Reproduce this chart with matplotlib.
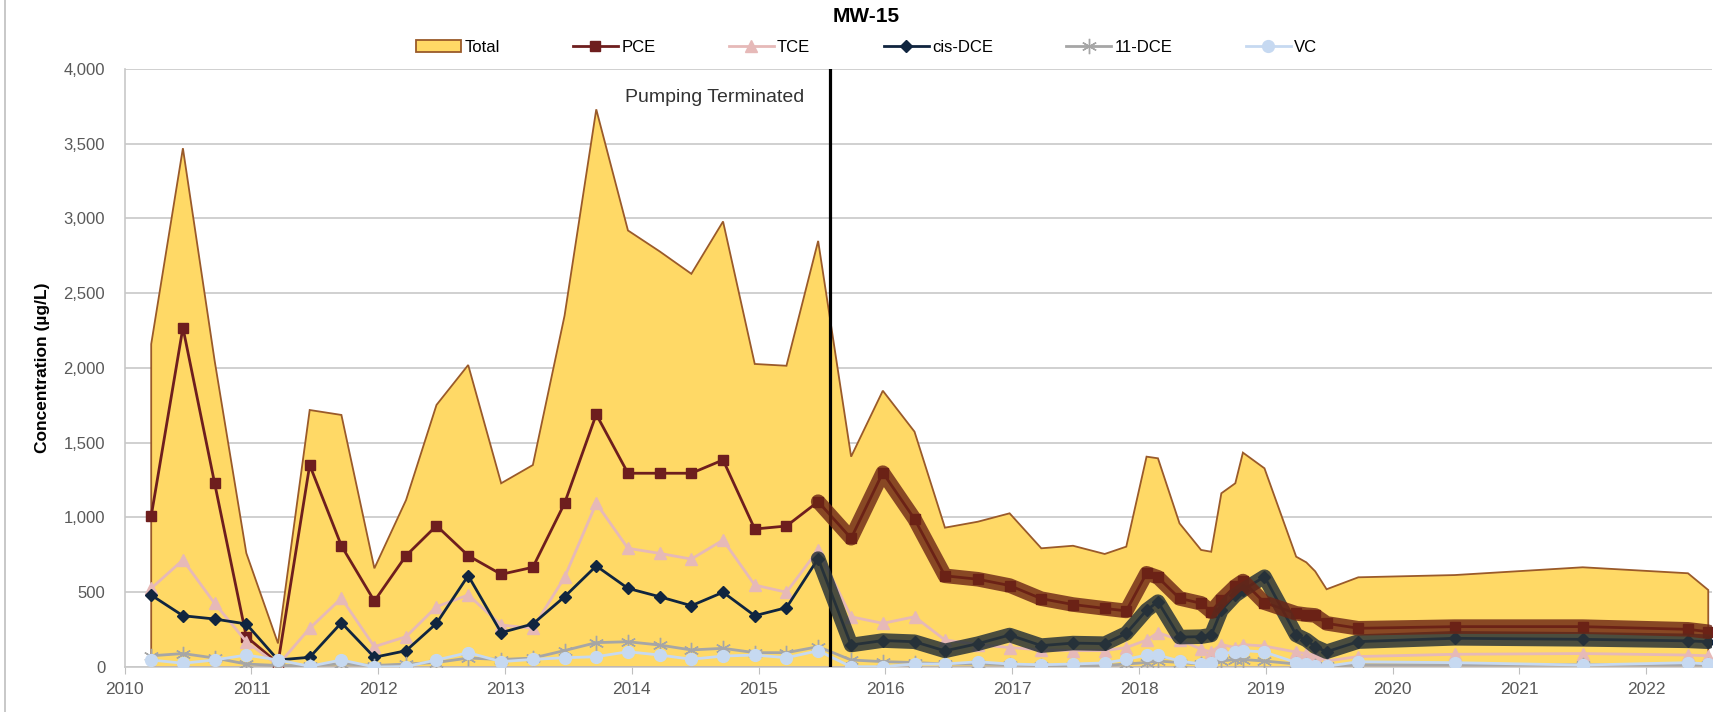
import numpy as np
import matplotlib.pyplot as plt
from matplotlib.patches import Patch
from matplotlib.lines import Line2D

plt.rcParams['font.family'] = ['Liberation Sans', 'DejaVu Sans']

# sampling dates (decimal years) and concentrations (ug/L)
dates = [2010.21, 2010.46, 2010.71, 2010.96, 2011.21, 2011.46, 2011.71, 2011.97,
         2012.22, 2012.46, 2012.71, 2012.97, 2013.22, 2013.47, 2013.72, 2013.97,
         2014.22, 2014.47, 2014.72, 2014.97, 2015.22, 2015.47, 2015.73, 2015.98,
         2016.23, 2016.47, 2016.73, 2016.98, 2017.23, 2017.48, 2017.73, 2017.90,
         2018.06, 2018.15, 2018.32, 2018.49, 2018.57, 2018.65, 2018.76, 2018.82,
         2018.99, 2019.24, 2019.32, 2019.39, 2019.48, 2019.73, 2020.49, 2021.50,
         2022.33, 2022.49]

total = [2160, 3470, 2050, 762, 158, 1719, 1686, 660,
         1117, 1753, 2020, 1229, 1351, 2350, 3730, 2920,
         2780, 2630, 2980, 2027, 2015, 2850, 1407, 1848,
         1574, 932, 972, 1028, 794, 811, 756, 805,
         1407, 1396, 961, 783, 771, 1162, 1229, 1434,
         1329, 738, 700, 640, 520, 600, 615, 667,
         627, 515]

pce = [1010, 2270, 1230, 203, 25, 1351, 811, 441,
       745, 945, 745, 620, 667, 1095, 1690, 1296,
       1296, 1296, 1385, 923, 943, 1106, 861, 1300,
       990, 610, 587, 545, 457, 418, 392, 375,
       627, 600, 459, 426, 370, 450, 540, 575,
       430, 359, 350, 345, 292, 259, 270, 270,
       252, 236]

tce = [526, 716, 426, 170, 13, 259, 460, 136,
       203, 403, 482, 281, 259, 600, 1095, 794,
       760, 722, 849, 548, 500, 783, 336, 292,
       336, 181, 150, 130, 115, 110, 110, 130,
       180, 230, 180, 120, 100, 150, 130, 150,
       140, 100, 90, 80, 40, 70, 85, 90,
       80, 75]

cis_dce = [481, 343, 321, 288, 47, 65, 296, 65,
           109, 292, 611, 230, 288, 470, 676, 526,
           470, 410, 500, 343, 397, 725, 147, 177,
           169, 108, 156, 214, 143, 160, 156, 225,
           380, 437, 200, 203, 214, 380, 480, 515,
           604, 214, 181, 136, 102, 170, 192, 185,
           175, 169]

dce11 = [75, 90, 60, 20, 10, 10, 20, 10,
         20, 30, 60, 50, 60, 110, 163, 169,
         147, 114, 125, 96, 96, 136, 47, 36,
         30, 20, 20, 15, 10, 10, 10, 20,
         30, 40, 30, 20, 20, 40, 50, 50,
         40, 20, 15, 10, 5, 15, 15, 15,
         15, 15]

vc = [47, 25, 47, 80, 47, 5, 47, 0,
      3, 47, 96, 36, 51, 62, 69, 102,
      80, 52, 73, 80, 62, 109, 2, 2,
      20, 20, 35, 20, 15, 20, 27, 51,
      80, 80, 40, 20, 30, 90, 100, 110,
      100, 30, 20, 10, 5, 35, 29, 13,
      29, 20]

pump_off = 2015.56
trend_start = 2015.47   # trend bands after pumping stopped
years = list(range(2010, 2023))
yticks = [0, 500, 1000, 1500, 2000, 2500, 3000, 3500, 4000]

c_fill, c_edge = '#FFD966', '#9A5A2A'
c_pce, c_tce, c_cis, c_11, c_vc = '#6E1E1E', '#E6B9B8', '#10253F', '#A6A6A6', '#C6D9F1'

fig = plt.figure(figsize=(17.16, 7.12), dpi=100)
ax = fig.add_axes([0.0726, 0.0632, 0.9251, 0.8399])

d = np.array(dates)
ax.fill(np.r_[d[0], d, d[-1]], np.r_[0, total, 0], facecolor=c_fill,
        edgecolor=c_edge, lw=1.3, zorder=2)

lw = 2.0
ax.plot(d, pce, color=c_pce, lw=lw, marker='s', ms=7.5, zorder=3)
ax.plot(d, tce, color=c_tce, lw=lw, marker='^', ms=8, zorder=4)
ax.plot(d, cis_dce, color=c_cis, lw=lw, marker='D', ms=6.5, zorder=5)
ax.plot(d, dce11, color=c_11, lw=lw, marker=(6, 2, 0), ms=11, mew=1, zorder=6)
ax.plot(d, vc, color=c_vc, lw=lw, marker='o', ms=8.5, zorder=7)

# highlighted trends after pumping terminated
m = d >= trend_start
ax.plot(d[m], np.array(cis_dce)[m], color='#2B3438', lw=10.5, alpha=0.85,
        solid_capstyle='round', solid_joinstyle='round', zorder=8)
ax.plot(d[m], np.array(pce)[m], color='#6B2414', lw=10.5, alpha=0.8,
        solid_capstyle='round', solid_joinstyle='round', zorder=9)

ax.axvline(pump_off, color='black', lw=2.3, zorder=7.5)
ax.text(pump_off - 0.2, 3810, 'Pumping Terminated', ha='right', va='center',
        fontsize=14, color='#333333')

ax.set_xlim(2010, 2022.52)
ax.set_ylim(0, 4000)
ax.set_xticks(years)
ax.set_xticklabels([str(y) for y in years])
ax.set_yticks(yticks)
ax.set_yticklabels([f'{v:,}' for v in yticks])
ax.tick_params(axis='y', length=0, pad=14, labelsize=12, labelcolor='#595959')
ax.tick_params(axis='x', length=5, color='#BFBFBF', pad=6, labelsize=12.5,
               labelcolor='#595959')
ax.grid(axis='y', color='#C8C8C8', lw=1.2, zorder=0)
ax.set_axisbelow(True)
for s in ['top', 'right']:
    ax.spines[s].set_visible(False)
for s in ['left', 'bottom']:
    ax.spines[s].set_color('#C8C8C8')
    ax.spines[s].set_linewidth(1.2)
ax.set_ylabel('Concentration (µg/L)', fontsize=12.5, fontweight='bold', labelpad=10)

fig.text(0.505, 1 - 16 / 712, 'MW-15', ha='center', va='center',
         fontsize=15, fontweight='bold')

handles = [
    Patch(facecolor=c_fill, edgecolor=c_edge, lw=1.3),
    Line2D([], [], color=c_pce, lw=lw, marker='s', ms=7.5),
    Line2D([], [], color=c_tce, lw=lw, marker='^', ms=8),
    Line2D([], [], color=c_cis, lw=lw, marker='D', ms=6.5),
    Line2D([], [], color=c_11, lw=lw, marker=(6, 2, 0), ms=11, mew=1),
    Line2D([], [], color=c_vc, lw=lw, marker='o', ms=8.5),
]
fig.legend(handles, ['Total', 'PCE', 'TCE', 'cis-DCE', '11-DCE', 'VC'],
           loc='center', bbox_to_anchor=(0.505, 1 - 47 / 712), ncol=6,
           frameon=False, fontsize=12, handlelength=2.7, handletextpad=0.2,
           columnspacing=4.4)

fig.add_artist(Line2D([0.003, 0.003], [0, 1], color='#BFBFBF', lw=1.2))

fig.savefig('out.png', dpi=100)
